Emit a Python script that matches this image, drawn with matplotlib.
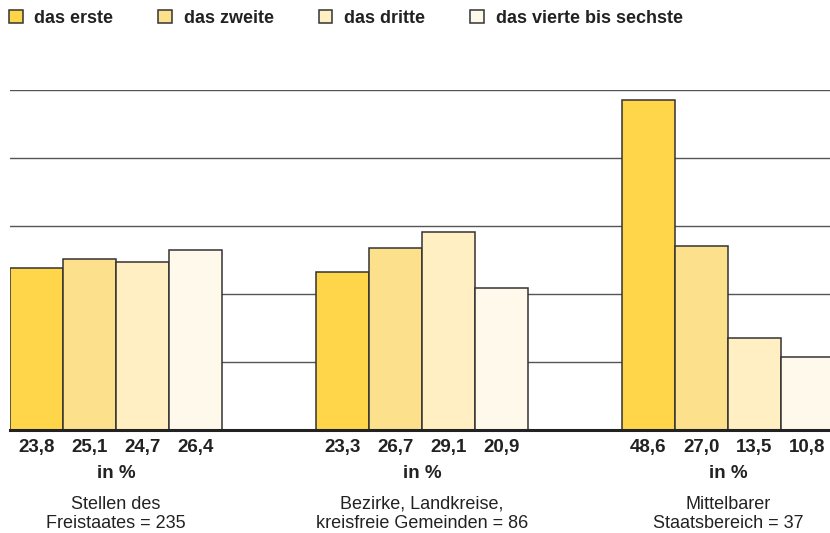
import numpy as np
import matplotlib.pyplot as plt
from matplotlib.patches import Patch

plt.rcParams['font.family'] = ['Liberation Sans', 'DejaVu Sans']

series = ['das erste', 'das zweite', 'das dritte', 'das vierte bis sechste']
colors = ['#FFD54A', '#FDE08B', '#FFEFC2', '#FFF9EC']
groups = ['Stellen des\nFreistaates = 235',
          'Bezirke, Landkreise,\nkreisfreie Gemeinden = 86',
          'Mittelbarer\nStaatsbereich = 37']
values = [
    [23.8, 25.1, 24.7, 26.4],
    [23.3, 26.7, 29.1, 20.9],
    [48.6, 27.0, 13.5, 10.8],
]

txt = '#222222'
edge = '#333333'

fig = plt.figure(figsize=(8.3, 5.33), dpi=100)
ax = fig.add_axes([10 / 830, 103 / 533, 824 / 830, 340 / 533])

pitch = 306 / 53  # group spacing in bar widths
for g, vals in enumerate(values):
    start = g * pitch
    for j, v in enumerate(vals):
        xc = start + j + 0.5
        ax.bar(xc, v, width=1.0, color=colors[j], edgecolor=edge, linewidth=1.1, zorder=3)
        ax.text(xc, -2.6, f'{v:.1f}'.replace('.', ','), ha='center', va='center',
                fontsize=13.5, fontweight='bold', color=txt, clip_on=False)
    gc = start + 2
    ax.text(gc, -6.4, 'in %', ha='center', va='center', fontsize=13.5,
            fontweight='bold', color=txt, clip_on=False)
    ax.text(gc, -9.7, groups[g], ha='center', va='top', fontsize=13,
            color=txt, linespacing=1.17, clip_on=False)

ax.set_xlim(0, 824 / 53)
ax.set_ylim(0, 50)
ax.set_yticks([10, 20, 30, 40, 50])
ax.yaxis.grid(True, color='#555555', linewidth=1.0)
ax.set_axisbelow(True)
ax.tick_params(left=False, bottom=False, labelleft=False, labelbottom=False)
for s in ['top', 'left', 'right']:
    ax.spines[s].set_visible(False)
ax.spines['bottom'].set_color(txt)
ax.spines['bottom'].set_linewidth(2.2)
ax.spines['bottom'].set_zorder(4)

handles = [Patch(facecolor=c, edgecolor=edge, linewidth=1.1) for c in colors]
leg = fig.legend(handles, series, loc='upper left', bbox_to_anchor=(9 / 830, 1 - 10 / 533),
                 ncol=4, frameon=False, borderpad=0, borderaxespad=0,
                 handlelength=0.75, handleheight=0.75, handletextpad=0.65,
                 columnspacing=2.5, prop={'size': 13, 'weight': 'bold'})
for t in leg.get_texts():
    t.set_color(txt)

fig.savefig('out.png', dpi=100)
